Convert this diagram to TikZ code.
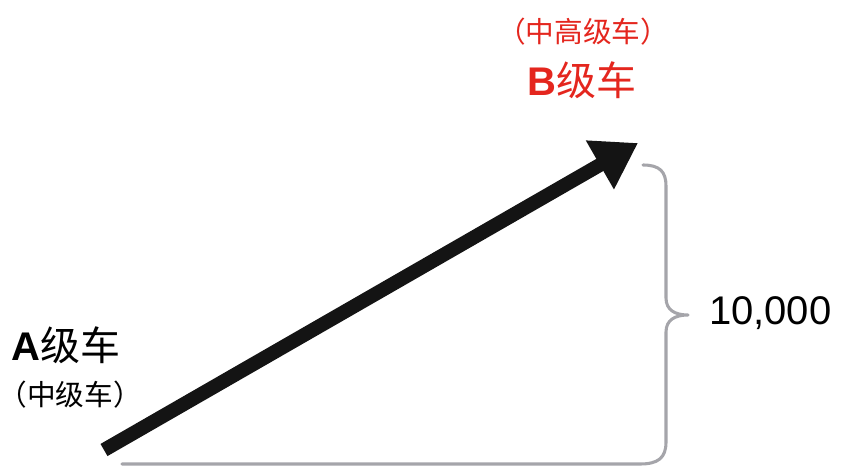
\documentclass[tikz,border=0pt]{standalone}
\usepackage{fontspec}
\setmainfont{Liberation Sans}
\newfontfamily\cjk{Noto Sans CJK SC}
\usetikzlibrary{arrows.meta}
\definecolor{redtxt}{RGB}{228,38,30}
\definecolor{bracegray}{RGB}{165,165,170}
\definecolor{shaft}{RGB}{20,20,20}
\tikzset{
  lbl/.style={inner sep=0pt, outer sep=0pt},
  big/.style={lbl, font=\fontsize{30pt}{32pt}\selectfont},
  small/.style={lbl, font=\cjk\fontsize{21.5pt}{23pt}\selectfont},
  bracestyle/.style={draw=bracegray, line width=2.3pt, line cap=round, line join=round},
  arrowstyle/.style={draw=shaft, line width=10.5pt, -{Triangle[length=33pt, width=40pt]}}
}
\begin{document}
\begin{tikzpicture}[x=0.75pt, y=-0.75pt]
\useasboundingbox (0,0) rectangle (841,466);
% labels
\node[small, text=redtxt] (bsub) at (583,32) {（中高级车）};
\node[big, text=redtxt] (bmain) at (582,80) {\bfseries B{\cjk\mdseries 级车}};
\node[big, anchor=west] (amain) at (12,345) {\bfseries A{\cjk\mdseries 级车}};
\node[small] (asub) at (70,395) {（中级车）};
\node[lbl, anchor=west, font=\fontsize{30pt}{32pt}\selectfont] (num) at (709,313) {10,000};
% arrow
\coordinate (start) at (104,450);
\coordinate (tip) at (638,143);
\draw[arrowstyle] (start) -- (tip);
% brace
\coordinate (btop) at (643,165);
\coordinate (cusp) at (688,315);
\coordinate (bend) at (122,464);
\draw[bracestyle] (btop) .. controls (660,165) and (666,172) .. (666,186) -- (666,298)
  .. controls (666,310) and (675,315) .. (cusp)
  .. controls (675,315) and (666,320) .. (666,332) -- (666,442)
  .. controls (666,458) and (658,464) .. (640,464) -- (bend);
\end{tikzpicture}
\end{document}
